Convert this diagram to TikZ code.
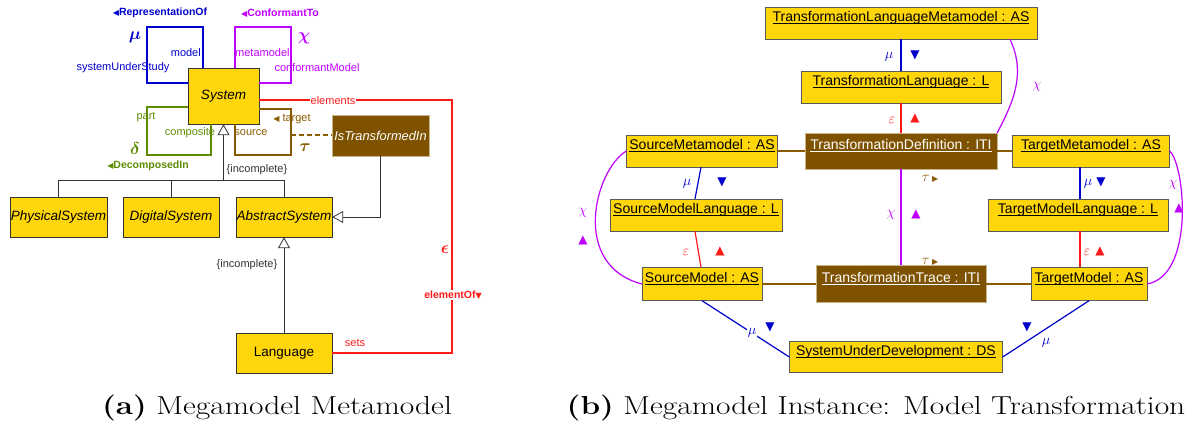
\documentclass[tikz,border=0pt]{standalone}
\usepackage{amsmath}
\usepackage{bm}
\usepackage{fontspec}
\newfontfamily\diagfont{Liberation Sans}
\newfontfamily\symfont{DejaVu Sans}
\usepackage{tikz}
\usetikzlibrary{arrows.meta}

\definecolor{boxyellow}{HTML}{FFD60A}
\definecolor{itibrown}{HTML}{7F5200}
\definecolor{itiedge}{HTML}{C9B48A}
\definecolor{mublue}{HTML}{0000CC}
\definecolor{chipurple}{HTML}{BF00FF}
\definecolor{epsred}{HTML}{FF1A1A}
\definecolor{taubrown}{HTML}{8A5A00}
\definecolor{deltagreen}{HTML}{5E8C00}

\newcommand{\instname}[1]{\underline{\smash{#1}}}

\begin{document}
\begin{tikzpicture}[x=1pt,y=-1pt,
  cls/.style={draw=black!80, fill=boxyellow, inner sep=0pt, minimum height=40pt, font=\diagfont\fontsize{13.5}{16}\selectfont\itshape},
  itibox/.style={draw=itiedge, fill=itibrown, text=white, inner sep=0pt},
  inst/.style={draw=black!65, fill=boxyellow, inner sep=0pt, minimum height=32pt, font=\diagfont\fontsize{14}{16}\selectfont},
  lbl/.style={inner sep=1pt, font=\diagfont\fontsize{11}{13}\selectfont},
  relname/.style={inner sep=1pt, font=\diagfont\bfseries\fontsize{10.5}{12}\selectfont},
  greek/.style={inner sep=0pt, font=\fontsize{18}{20}\selectfont},
  sgreek/.style={inner sep=0pt, font=\fontsize{15}{18}\selectfont},
  tri/.style={inner sep=0pt, font=\symfont\fontsize{12}{14}\selectfont},
  muline/.style={draw=mublue, line width=1.2pt},
  chiline/.style={draw=chipurple, line width=1.2pt},
  epsline/.style={draw=epsred, line width=1.2pt},
  tauline/.style={draw=taubrown, line width=1.2pt},
  dline/.style={draw=deltagreen, line width=1.2pt},
  gen/.style={draw=black!80, line width=0.8pt},
  opentip/.style={-{Triangle[open,length=11pt,width=12pt]}}
]
\useasboundingbox (0,0) rectangle (1194,425);

% (a) metamodel
\node[cls, minimum width=71pt, minimum height=56pt] (sys) at (223.5,96) {System};
\node[cls, minimum width=97pt] (phys) at (58.5,217) {PhysicalSystem};
\node[cls, minimum width=96pt] (digi) at (171,217) {DigitalSystem};
\node[cls, minimum width=96pt] (abst) at (284,217) {AbstractSystem};
\node[itibox, minimum width=97pt, minimum height=41pt, font=\diagfont\fontsize{12.8}{15}\selectfont\itshape] (ist) at (380.5,135.5) {IsTransformedIn};
\node[cls, minimum width=96pt, font=\diagfont\fontsize{13.5}{16}\selectfont] (lang) at (284,353) {Language};

\draw[muline] (sys.north -| 203,0) -- (203,27) -- (147,27) -- (147,83) -- (sys.west |- 0,83);
\node[greek, text=mublue] (mua) at (135,37) {$\bm{\mu}$};
\node[lbl, text=mublue, anchor=east] (model) at (202,53) {model};
\node[lbl, text=mublue] (sus) at (123,68) {systemUnderStudy};
\node[relname, text=mublue] (repof) at (160,13) {{\symfont\fontsize{8}{10}\selectfont ◀}RepresentationOf};

\draw[chiline] (sys.north -| 235,0) -- (235,27) -- (291,27) -- (291,83) -- (sys.east |- 0,83);
\node[greek, text=chipurple] (chia) at (304,38) {$\bm{\chi}$};
\node[lbl, text=chipurple, anchor=west] (metam) at (234,53) {metamodel};
\node[lbl, text=chipurple] (confm) at (317,68) {conformantModel};
\node[relname, text=chipurple] (confto) at (280,13) {{\symfont\fontsize{8}{10}\selectfont ◀}ConformantTo};

\draw[dline] (sys.west |- 0,107) -- (147,107) -- (147,155) -- (211,155) -- (sys.south -| 211,0);
\node[lbl, text=deltagreen] (part) at (146,117) {part};
\node[lbl, text=deltagreen] (compo) at (190,133) {composite};
\node[greek, text=deltagreen] (deltaa) at (135,148) {$\bm{\delta}$};
\node[relname, text=deltagreen] (decin) at (148,166) {{\symfont\fontsize{8}{10}\selectfont ◀}DecomposedIn};

\draw[tauline] (sys.south -| 235,0) -- (235,155) -- (291,155) -- (291,109) -- (sys.east |- 0,109);
\coordinate (taumid) at (291,135);
\node[lbl, text=taubrown] (source) at (251,133) {source};
\node[lbl, text=taubrown] (target) at (292,119) {{\symfont\fontsize{8}{10}\selectfont ◀} target};
\node[greek, text=taubrown] (taua) at (305,148) {$\bm{\tau}$};
\draw[tauline, dashed, dash pattern=on 5pt off 3pt] (taumid) -- (ist.west |- taumid);

\coordinate (genjoin) at (sys.south |- 0,180);
\draw[gen] (phys.north) -- (phys.north |- genjoin) -- (abst.north |- genjoin) -- (abst.north);
\draw[gen] (digi.north) -- (digi.north |- genjoin);
\draw[gen, opentip] (genjoin) -- (sys.south);
\node[lbl, text=black!80] (inc1) at (257,170) {\{incomplete\}};
\draw[gen, opentip] (ist.south) |- (abst.east);
\draw[gen, opentip] (lang.north) -- (abst.south);
\node[lbl, text=black!80] (inc2) at (247,265) {\{incomplete\}};

\draw[epsline] (sys.east |- 0,100) -- (452,100) -- (452,353) -- (lang.east);
\node[lbl, text=epsred, fill=white] (elems) at (333,101) {elements};
\node[greek, text=epsred] (epsa) at (445,250) {$\bm{\epsilon}$};
\node[relname, text=epsred, fill=white] (elemof) at (453,295) {elementOf{\symfont\fontsize{8}{10}\selectfont ▼}};
\node[lbl, text=epsred] (sets) at (355,343) {sets};

% (b) instance
\node[inst, minimum width=272pt] (tlm) at (901,23) {\instname{TransformationLanguageMetamodel : AS}};
\node[inst, minimum width=200pt] (tl) at (901,87) {\instname{TransformationLanguage : L}};
\node[inst, minimum width=151pt] (smm) at (702,151) {\instname{SourceMetamodel : AS}};
\node[itibox, minimum width=192pt, minimum height=36pt, font=\diagfont\fontsize{14}{16}\selectfont] (td) at (901,151) {\instname{TransformationDefinition : ITI}};
\node[inst, minimum width=157pt] (tmm) at (1091,151) {\instname{TargetMetamodel : AS}};
\node[inst, minimum width=172pt] (sml) at (696,215) {\instname{SourceModelLanguage : L}};
\node[inst, minimum width=180pt] (tml) at (1078,215) {\instname{TargetModelLanguage : L}};
\node[inst, minimum width=120pt, minimum height=33pt] (sm) at (702,284) {\instname{SourceModel : AS}};
\node[itibox, minimum width=170pt, minimum height=37pt, font=\diagfont\fontsize{14}{16}\selectfont] (tt) at (901,284) {\instname{TransformationTrace : ITI}};
\node[inst, minimum width=116pt, minimum height=33pt] (tm) at (1089,284) {\instname{TargetModel : AS}};
\node[inst, minimum width=213pt, minimum height=31pt] (sud) at (896,357) {\instname{SystemUnderDevelopment : DS}};

\draw[muline] (tlm) -- (tl);
\node[sgreek, text=mublue] (mu1) at (889,57) {$\mu$};
\node[tri, text=mublue] (mut1) at (915,55) {▼};
\draw[epsline] (tl) -- (td);
\node[sgreek, text=epsred] (eps1) at (892,120) {$\varepsilon$};
\node[tri, text=epsred] (epst1) at (915,118) {▲};
\draw[chiline] (tlm.south -| 1010,0) to[out=-65,in=62] (td.north east);
\node[sgreek, text=chipurple] (chi1) at (1037,87) {$\chi$};

\draw[tauline] (smm) -- (td);
\draw[tauline] (td) -- (tmm);
\draw[muline] (smm.south -| 701,0) -- (sml.north -| 695,0);
\node[sgreek, text=mublue] (mu2) at (687,184) {$\mu$};
\node[tri, text=mublue] (mut2) at (722,182) {▼};
\draw[epsline] (sml.south -| 695,0) -- (sm.north -| 701,0);
\node[sgreek, text=epsred] (eps2) at (686,252) {$\varepsilon$};
\node[tri, text=epsred] (epst2) at (720,251) {▲};

\draw[chiline] (td) -- (tt);
\node[sgreek, text=chipurple] (chi2) at (891,215) {$\chi$};
\node[tri, text=chipurple] (chit2) at (916,214) {▲};
\node[sgreek, text=taubrown] (tau1) at (930,179) {$\tau$\,{\symfont\fontsize{8}{10}\selectfont ▶}};
\node[sgreek, text=taubrown] (tau2) at (930,262) {$\tau$\,{\symfont\fontsize{8}{10}\selectfont ▶}};

\draw[muline] (tmm.south -| 1080,0) -- (tml.north -| 1080,0);
\node[sgreek, text=mublue] (mu3) at (1088,184) {$\mu$};
\node[tri, text=mublue] (mut3) at (1101,182) {▼};
\draw[epsline] (tml.south -| 1080,0) -- (tm.north -| 1080,0);
\node[sgreek, text=epsred] (eps3) at (1087,252) {$\varepsilon$};
\node[tri, text=epsred] (epst3) at (1100,251) {▲};

\draw[chiline] (smm.west) .. controls (595,170) and (570,265) .. (sm.west);
\node[sgreek, text=chipurple] (chi3) at (583,213) {$\chi$};
\node[tri, text=chipurple] (chit3) at (583,240) {▲};
\draw[chiline] (tmm.east) .. controls (1185,165) and (1195,275) .. (tm.east);
\node[sgreek, text=chipurple] (chi4) at (1173,185) {$\chi$};
\node[tri, text=chipurple] (chit4) at (1179,208) {▲};

\draw[tauline] (sm) -- (tt);
\draw[tauline] (tt) -- (tm);
\draw[muline] (sm.south) -- (sud.west);
\node[sgreek, text=mublue, fill=white, inner sep=1pt] (mu4) at (752,333) {$\mu$};
\node[tri, text=mublue] (mut4) at (770,327) {▼};
\draw[muline] (tm.south) -- (sud.east);
\node[tri, text=mublue] (mut5) at (1027,327) {▼};
\node[sgreek, text=mublue] (mu5) at (1046,343) {$\mu$};

% captions
\node[anchor=base, font=\rmfamily\fontsize{26}{30}\selectfont] (capa) at (277,414) {\scalebox{1.21}[1]{\textbf{(a)} Megamodel Metamodel}};
\node[anchor=base, font=\rmfamily\fontsize{26}{30}\selectfont] (capb) at (876,414) {\scalebox{1.21}[1]{\textbf{(b)} Megamodel Instance: Model Transformation}};
\end{tikzpicture}
\end{document}
